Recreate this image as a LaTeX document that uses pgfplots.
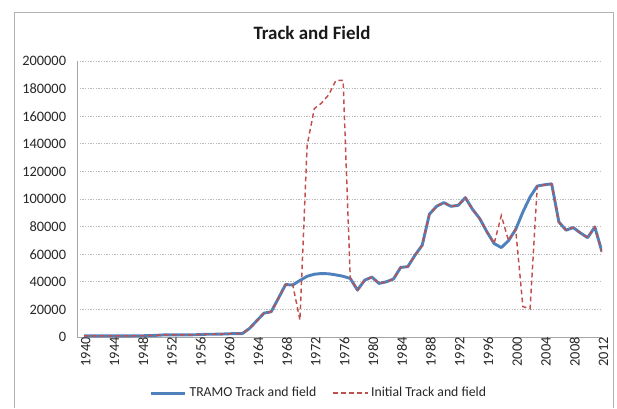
\documentclass[border=0pt]{standalone}
\usepackage{fontspec}
\setmainfont{Carlito}
\usepackage{pgfplots}
\pgfplotsset{compat=1.18}
\definecolor{excelblue}{HTML}{4F81BD}
\definecolor{excelred}{HTML}{C0504D}
\begin{document}
\begin{tikzpicture}
\useasboundingbox (0,0) rectangle (462.75pt,306pt);
\draw[gray!60, line width=0.6pt] (10.5pt,0pt) -- (10.5pt,297pt) -- (460pt,297pt) -- (460pt,0pt);
\node[font=\fontsize{14.2}{16}\selectfont\bfseries, text=black!90] at (234pt,281.25pt) {Track and Field};
\begin{axis}[
  at={(57.75pt,53.25pt)}, anchor=south west,
  scale only axis, width=393.75pt, height=207pt,
  xmin=1940, xmax=2013, ymin=0, ymax=200000,
  axis x line*=bottom, axis y line*=left,
  axis line style={gray!70, line width=0.6pt},
  major tick length=0pt,
  xtick={1940,1944,...,2012},
  ytick={0,20000,...,200000},
  scaled y ticks=false,
  /pgf/number format/assume math mode=true,
  /pgf/number format/1000 sep={},
  /pgf/number format/fixed,
  ymajorgrids,
  major grid style={gray!55, dash pattern=on 1pt off 1pt, line width=0.5pt},
  tick label style={font=\fontsize{10.8}{12}\selectfont, text=black!85},
  xticklabel style={rotate=90, anchor=east, inner sep=0pt, yshift=-6.5pt},
  yticklabel style={anchor=east, inner sep=0pt, xshift=-8pt},
  legend style={at={(0.461,-0.203)}, anchor=center, draw=none, fill=none,
    font=\fontsize{10.3}{12}\selectfont, text=black!85,
    legend columns=2,
    /tikz/every even column/.append style={column sep=10pt}},
  legend image code/.code={\draw[#1] (0pt,0pt) -- (26pt,0pt);},
]
\addplot[excelblue, line width=2.2pt, line join=round] coordinates {
(1941,800) (1942,800) (1943,800) (1944,800) (1945,800) (1946,800) (1947,800)
(1948,900) (1949,900) (1950,1000) (1951,1200) (1952,1500) (1953,1500) (1954,1500)
(1955,1600) (1956,1600) (1957,1700) (1958,2000) (1959,2000) (1960,2100) (1961,2300)
(1962,2500) (1963,2500) (1964,6300) (1965,11800) (1966,17300) (1967,18300) (1968,28000)
(1969,38000) (1970,37700) (1971,41000) (1972,44000) (1973,45500) (1974,46000)
(1975,45800) (1976,45000) (1977,44000) (1978,42400) (1979,34000) (1980,41200)
(1981,43400) (1982,38800) (1983,40000) (1984,42000) (1985,50400) (1986,51000)
(1987,59300) (1988,66500) (1989,89000) (1990,94700) (1991,97400) (1992,94700)
(1993,95400) (1994,101000) (1995,92500) (1996,85800) (1997,76200) (1998,67700)
(1999,64800) (2000,69800) (2001,78000) (2002,90600) (2003,101500) (2004,109400)
(2005,110300) (2006,111000) (2007,83400) (2008,77400) (2009,79300) (2010,75400)
(2011,72000) (2012,79700) (2013,61700)
};
\addlegendentry{TRAMO Track and field}
\addplot[excelred, line width=1.1pt, dash pattern=on 3.5pt off 2.5pt] coordinates {
(1941,800) (1942,800) (1943,800) (1944,800) (1945,800) (1946,800) (1947,800)
(1948,900) (1949,900) (1950,1000) (1951,1200) (1952,1500) (1953,1500) (1954,1500)
(1955,1600) (1956,1600) (1957,1700) (1958,2000) (1959,2000) (1960,2100) (1961,2300)
(1962,2500) (1963,2500) (1964,6300) (1965,11800) (1966,17300) (1967,18300) (1968,28000)
(1969,38000) (1970,37700) (1971,12300) (1972,139000) (1973,165500) (1974,169500)
(1975,175500) (1976,186000) (1977,186000) (1978,42400) (1979,34000) (1980,41200)
(1981,43400) (1982,38800) (1983,40000) (1984,42000) (1985,50400) (1986,51000)
(1987,59300) (1988,66500) (1989,89000) (1990,94700) (1991,97400) (1992,94700)
(1993,95400) (1994,101000) (1995,92500) (1996,85800) (1997,76200) (1998,67700)
(1999,88000) (2000,69800) (2001,78000) (2002,22000) (2003,20500) (2004,109400)
(2005,110300) (2006,111000) (2007,83400) (2008,77400) (2009,79300) (2010,75400)
(2011,72000) (2012,79700) (2013,61700)
};
\addlegendentry{Initial Track and field}
\end{axis}
\end{tikzpicture}
\end{document}
